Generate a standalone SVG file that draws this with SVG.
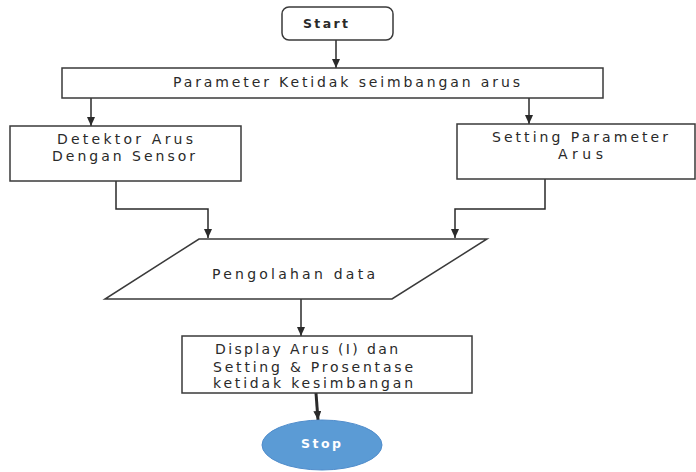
<svg xmlns="http://www.w3.org/2000/svg" width="696" height="472" viewBox="0 0 696 472">
<style>
.box{fill:#fff;stroke:#3a3a3a;stroke-width:1.5}
.t{font-family:"DejaVu Sans","Liberation Sans",sans-serif;font-size:14px;fill:#2a2a2a;dominant-baseline:central}
.c{fill:none;stroke:#2a2a2a;stroke-width:1.5}
</style>
<defs>
<marker id="ah" markerUnits="userSpaceOnUse" markerWidth="9" markerHeight="8" refX="9" refY="4" orient="auto">
<path d="M0,0 L9,4 L0,8 z" fill="#2a2a2a"/>
</marker>
</defs>
<rect width="696" height="472" fill="#fff"/>
<g id="connectors">
<path class="c" d="M336 40 V68" marker-end="url(#ah)"/>
<path class="c" d="M91 98 V126" marker-end="url(#ah)"/>
<path class="c" d="M529 98 V124" marker-end="url(#ah)"/>
<path class="c" d="M116 181 V209 H208 V238" marker-end="url(#ah)"/>
<path class="c" d="M545 179 V209 H455 V238" marker-end="url(#ah)"/>
<path class="c" d="M301 299 V336" marker-end="url(#ah)"/>
<path class="c" d="M316 393 L318 420" style="stroke-width:3" marker-end="url(#ah)"/>
</g>
<g id="start">
<rect class="box" x="282" y="7" width="111" height="33" rx="7"/>
<text class="t" x="303" y="23" textLength="45" lengthAdjust="spacing" style="font-weight:bold;font-size:12.5px">Start</text>
</g>
<g id="parameter">
<rect class="box" x="62" y="68" width="541" height="30"/>
<text class="t" x="173" y="82" textLength="347" lengthAdjust="spacing">Parameter Ketidak seimbangan arus</text>
</g>
<g id="detektor">
<rect class="box" x="10" y="126" width="231" height="55"/>
<text class="t" x="57" y="139" textLength="136" lengthAdjust="spacing">Detektor Arus</text>
<text class="t" x="52" y="156" textLength="143" lengthAdjust="spacing">Dengan Sensor</text>
</g>
<g id="setting">
<rect class="box" x="457" y="124" width="238" height="55"/>
<text class="t" x="492" y="137" textLength="176" lengthAdjust="spacing">Setting Parameter</text>
<text class="t" x="558" y="154" textLength="45" lengthAdjust="spacing">Arus</text>
</g>
<g id="pengolahan">
<polygon class="box" points="199,239 487,239 392,299 105,299"/>
<text class="t" x="212" y="274" textLength="163" lengthAdjust="spacing">Pengolahan data</text>
</g>
<g id="display">
<rect class="box" x="182" y="336" width="290" height="57"/>
<text class="t" x="215" y="349" textLength="183" lengthAdjust="spacing">Display Arus (I) dan</text>
<text class="t" x="213" y="367" textLength="200" lengthAdjust="spacing">Setting &amp; Prosentase</text>
<text class="t" x="213" y="383" textLength="200" lengthAdjust="spacing">ketidak kesimbangan</text>
</g>
<g id="stop">
<ellipse cx="322" cy="445" rx="60" ry="25" fill="#5B9BD5" stroke="#4f8ccb" stroke-width="1"/>
<text class="t" x="301" y="443" textLength="40" lengthAdjust="spacing" style="fill:#fff;font-weight:bold;font-size:12.5px">Stop</text>
</g>
</svg>
